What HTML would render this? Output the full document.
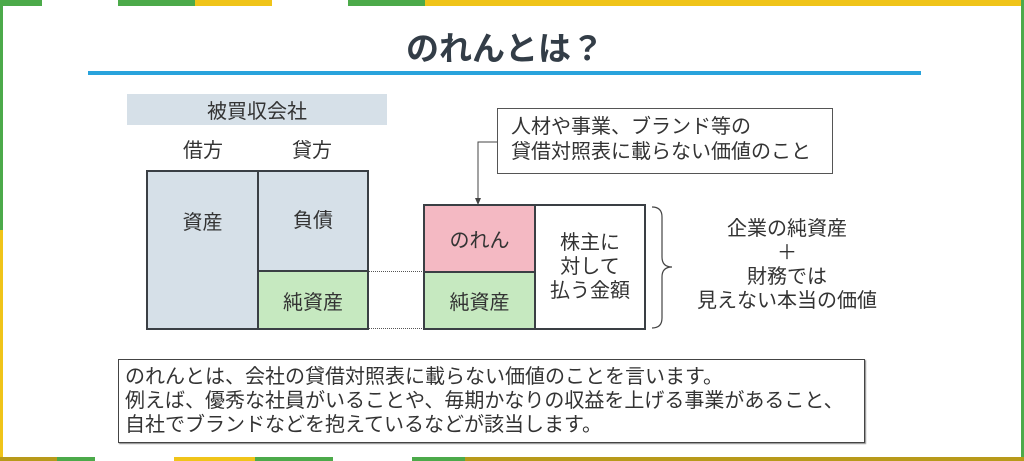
<!DOCTYPE html>
<html><head><meta charset="utf-8"><style>
body{margin:0;width:1024px;height:461px;background:#fff;position:relative;overflow:hidden;font-family:"Liberation Sans","Noto Sans CJK JP",sans-serif;color:#333}
.a{position:absolute;box-sizing:border-box}
.c{display:flex;align-items:center;justify-content:center;text-align:center}
.bx{border:2px solid #3a3f44}
</style></head><body>
<div class="a" style="left:0;top:0;width:42px;height:6px;background:#4caa4a"></div>
<div class="a" style="left:118px;top:0;width:77px;height:6px;background:#4caa4a"></div>
<div class="a" style="left:195px;top:0;width:77px;height:6px;background:#f0c419"></div>
<div class="a" style="left:348px;top:0;width:77px;height:6px;background:#4caa4a"></div>
<div class="a" style="left:425px;top:0;width:599px;height:6px;background:#f0c419"></div>
<div class="a" style="left:0;top:0;width:3px;height:461px;background:#4caa4a"></div>
<div class="a" style="left:0;top:230px;width:3px;height:231px;background:#f0c419"></div>
<div class="a" style="left:1021px;top:0;width:3px;height:461px;background:#4caa4a"></div>
<div class="a" style="left:0;top:457px;width:57px;height:4px;background:#b89a1a"></div>
<div class="a" style="left:57px;top:457px;width:38px;height:4px;background:#4caa4a"></div>
<div class="a" style="left:174px;top:457px;width:81px;height:4px;background:#f0c419"></div>
<div class="a" style="left:255px;top:457px;width:78px;height:4px;background:#4caa4a"></div>
<div class="a" style="left:412px;top:457px;width:53px;height:4px;background:#4caa4a"></div>
<div class="a" style="left:465px;top:457px;width:559px;height:4px;background:#b89a1a"></div>

<div class="a c" style="left:300px;top:24px;width:410px;height:44px;font-size:33px;font-weight:bold;color:#333d47">のれんとは？</div>
<div class="a" style="left:88px;top:71px;width:833px;height:4px;background:#29a3dc"></div>

<div class="a c" style="left:127px;top:94px;width:260px;height:31px;background:#d6e0e8;font-size:20px">被買収会社</div>
<div class="a c" style="left:163px;top:134px;width:80px;height:28px;font-size:20px">借方</div>
<div class="a c" style="left:272px;top:134px;width:80px;height:28px;font-size:20px">貸方</div>

<div class="a bx" style="left:146px;top:170px;width:113px;height:160px;background:#d6e0e8"></div>
<div class="a c" style="left:146px;top:204px;width:113px;height:32px;font-size:20px">資産</div>
<div class="a bx c" style="left:257px;top:170px;width:112px;height:102px;background:#d6e0e8;font-size:20px;align-items:flex-start;padding-top:32px">負債</div>
<div class="a bx c" style="left:257px;top:270px;width:112px;height:60px;background:#c6e9c0;font-size:20px">純資産</div>

<div class="a" style="left:369px;top:271px;width:55px;border-top:1px dotted #555"></div>
<div class="a" style="left:369px;top:328px;width:55px;border-top:1px dotted #555"></div>

<div class="a bx c" style="left:423px;top:204px;width:113px;height:69px;background:#f4b9c3;font-size:20px">のれん</div>
<div class="a bx c" style="left:423px;top:271px;width:113px;height:59px;background:#c6e9c0;font-size:20px">純資産</div>
<div class="a bx c" style="left:534px;top:204px;width:112px;height:126px;background:#fff;font-size:20px;line-height:24px">株主に<br>対して<br>払う金額</div>

<div class="a" style="left:497px;top:108px;width:336px;height:66px;border:1px solid #555;font-size:20px;line-height:25px;padding:6px 0 0 13px;white-space:nowrap">人材や事業、ブランド等の<br>貸借対照表に載らない価値のこと</div>
<svg class="a" style="left:0;top:0" width="1024" height="461">
<polyline points="497,142 478,142 478,203" fill="none" stroke="#444" stroke-width="1"/>
<polygon points="475,198 481,198 478,205" fill="#444"/>
<path d="M652,207 Q662,207 662,217 L662,257 Q662,267 672,267 Q662,267 662,277 L662,318 Q662,328 652,328" fill="none" stroke="#444" stroke-width="1.2"/>
</svg>
<div class="a c" style="left:680px;top:215px;width:214px;height:100px;font-size:20px;line-height:24px">企業の純資産<br>＋<br>財務では<br>見えない本当の価値</div>

<div class="a" style="left:118px;top:359px;width:747px;height:84px;border:1px solid #444;box-shadow:1px 1px 1px #888;font-size:20px;line-height:24px;padding:5px 0 0 6px;white-space:nowrap">のれんとは、会社の貸借対照表に載らない価値のことを言います。<br>例えば、優秀な社員がいることや、毎期かなりの収益を上げる事業があること、<br>自社でブランドなどを抱えているなどが該当します。</div>
</body></html>
